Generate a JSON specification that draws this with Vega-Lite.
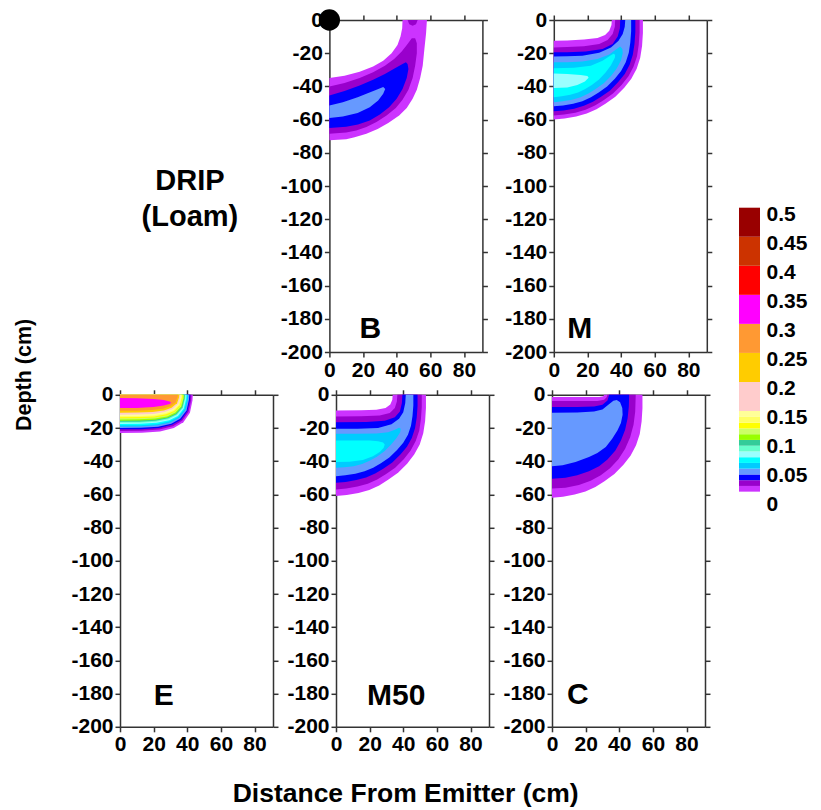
{
"$schema":"https://vega.github.io/schema/vega-lite/v6.json",
"padding":{"left":14,"top":9,"right":2,"bottom":2},
"background":"white",
"title":{"text":"Distance From Emitter (cm)","orient":"bottom","anchor":"middle","offset":26,"dx":-5,"fontSize":26.5,"font":"Liberation Sans","fontWeight":"bold","color":"#000"},
"config":{"view":{"stroke":null},"font":"Liberation Sans",
"axis":{"grid":false,"domainColor":"#333","domainWidth":1.5,"tickColor":"#333","tickWidth":1.5,"tickSize":5,"labelFont":"Liberation Sans","labelFontSize":21,"labelFontWeight":"bold","labelColor":"#000","labelPadding":2,"titleFont":"Liberation Sans","titleFontWeight":"bold","titleColor":"#000","titleFontSize":24}},
"datasets":{
"B":[
{"g":1,"c":"LP","i":0,"x":0,"y":-72.5},{"g":1,"c":"LP","i":1,"x":10,"y":-71.8},{"g":1,"c":"LP","i":2,"x":15,"y":-70.6},{"g":1,"c":"LP","i":3,"x":22,"y":-68.5},{"g":1,"c":"LP","i":4,"x":28.7,"y":-65.6},{"g":1,"c":"LP","i":5,"x":35,"y":-62},{"g":1,"c":"LP","i":6,"x":41.5,"y":-57.6},{"g":1,"c":"LP","i":7,"x":46,"y":-53},{"g":1,"c":"LP","i":8,"x":49.5,"y":-47.5},{"g":1,"c":"LP","i":9,"x":52,"y":-42},{"g":1,"c":"LP","i":10,"x":54,"y":-35},{"g":1,"c":"LP","i":11,"x":55.5,"y":-27.5},{"g":1,"c":"LP","i":12,"x":56.5,"y":-17.5},{"g":1,"c":"LP","i":13,"x":57.5,"y":-8},{"g":1,"c":"LP","i":14,"x":58,"y":0},{"g":1,"c":"LP","i":15,"x":43.5,"y":0},{"g":1,"c":"LP","i":16,"x":43.3,"y":-5},{"g":1,"c":"LP","i":17,"x":42.3,"y":-10},{"g":1,"c":"LP","i":18,"x":40.5,"y":-15},{"g":1,"c":"LP","i":19,"x":37,"y":-20},{"g":1,"c":"LP","i":20,"x":32,"y":-24.5},{"g":1,"c":"LP","i":21,"x":26,"y":-28},{"g":1,"c":"LP","i":22,"x":18,"y":-31.2},{"g":1,"c":"LP","i":23,"x":9,"y":-33.6},{"g":1,"c":"LP","i":24,"x":0,"y":-35},
{"g":2,"c":"DP","i":0,"x":0,"y":-68.5},{"g":2,"c":"DP","i":1,"x":10,"y":-67.8},{"g":2,"c":"DP","i":2,"x":16,"y":-66.5},{"g":2,"c":"DP","i":3,"x":22,"y":-64.5},{"g":2,"c":"DP","i":4,"x":28,"y":-61.5},{"g":2,"c":"DP","i":5,"x":34,"y":-57.5},{"g":2,"c":"DP","i":6,"x":39.5,"y":-53},{"g":2,"c":"DP","i":7,"x":43.5,"y":-48},{"g":2,"c":"DP","i":8,"x":47,"y":-42},{"g":2,"c":"DP","i":9,"x":49.5,"y":-35},{"g":2,"c":"DP","i":10,"x":51,"y":-27.5},{"g":2,"c":"DP","i":11,"x":52,"y":-20},{"g":2,"c":"DP","i":12,"x":52,"y":-14},{"g":2,"c":"DP","i":13,"x":51,"y":-11},{"g":2,"c":"DP","i":14,"x":49,"y":-11},{"g":2,"c":"DP","i":15,"x":46.5,"y":-14.5},{"g":2,"c":"DP","i":16,"x":43,"y":-19},{"g":2,"c":"DP","i":17,"x":38.5,"y":-23.5},{"g":2,"c":"DP","i":18,"x":33,"y":-27.5},{"g":2,"c":"DP","i":19,"x":26,"y":-31.5},{"g":2,"c":"DP","i":20,"x":18,"y":-35},{"g":2,"c":"DP","i":21,"x":9,"y":-38},{"g":2,"c":"DP","i":22,"x":0,"y":-40},
{"g":3,"c":"DP","i":0,"x":46.5,"y":0},{"g":3,"c":"DP","i":1,"x":47.5,"y":-2.5},{"g":3,"c":"DP","i":2,"x":49.5,"y":-3.5},{"g":3,"c":"DP","i":3,"x":51.5,"y":-2.5},{"g":3,"c":"DP","i":4,"x":52.5,"y":0},
{"g":4,"c":"BL","i":0,"x":0,"y":-65},{"g":4,"c":"BL","i":1,"x":10,"y":-64.3},{"g":4,"c":"BL","i":2,"x":17,"y":-63},{"g":4,"c":"BL","i":3,"x":24,"y":-60.5},{"g":4,"c":"BL","i":4,"x":30,"y":-57},{"g":4,"c":"BL","i":5,"x":35.5,"y":-52.5},{"g":4,"c":"BL","i":6,"x":40,"y":-47.5},{"g":4,"c":"BL","i":7,"x":43.5,"y":-41.5},{"g":4,"c":"BL","i":8,"x":46,"y":-35},{"g":4,"c":"BL","i":9,"x":47,"y":-29.5},{"g":4,"c":"BL","i":10,"x":46.5,"y":-26.5},{"g":4,"c":"BL","i":11,"x":45.5,"y":-25.5},{"g":4,"c":"BL","i":12,"x":43.5,"y":-26.5},{"g":4,"c":"BL","i":13,"x":39,"y":-29},{"g":4,"c":"BL","i":14,"x":33,"y":-32.5},{"g":4,"c":"BL","i":15,"x":26,"y":-36},{"g":4,"c":"BL","i":16,"x":18,"y":-39.5},{"g":4,"c":"BL","i":17,"x":9,"y":-42.8},{"g":4,"c":"BL","i":18,"x":0,"y":-45.5},
{"g":5,"c":"CF","i":0,"x":0,"y":-59},{"g":5,"c":"CF","i":1,"x":8,"y":-58.2},{"g":5,"c":"CF","i":2,"x":16.8,"y":-56},{"g":5,"c":"CF","i":3,"x":24,"y":-52.5},{"g":5,"c":"CF","i":4,"x":29,"y":-48.5},{"g":5,"c":"CF","i":5,"x":32,"y":-44.5},{"g":5,"c":"CF","i":6,"x":33.2,"y":-41.5},{"g":5,"c":"CF","i":7,"x":32,"y":-40.3},{"g":5,"c":"CF","i":8,"x":28,"y":-42},{"g":5,"c":"CF","i":9,"x":22,"y":-44.5},{"g":5,"c":"CF","i":10,"x":16.8,"y":-46.5},{"g":5,"c":"CF","i":11,"x":8,"y":-49.5},{"g":5,"c":"CF","i":12,"x":0,"y":-51.5}
],
"M":[
{"g":1,"c":"LP","i":0,"x":0,"y":-60},{"g":1,"c":"LP","i":1,"x":6.4,"y":-59.4},{"g":1,"c":"LP","i":2,"x":13.3,"y":-58.2},{"g":1,"c":"LP","i":3,"x":19.6,"y":-56.4},{"g":1,"c":"LP","i":4,"x":25.4,"y":-53.7},{"g":1,"c":"LP","i":5,"x":30.7,"y":-50.4},{"g":1,"c":"LP","i":6,"x":36.6,"y":-46.2},{"g":1,"c":"LP","i":7,"x":41.9,"y":-40.8},{"g":1,"c":"LP","i":8,"x":46.1,"y":-35.4},{"g":1,"c":"LP","i":9,"x":49.3,"y":-29.4},{"g":1,"c":"LP","i":10,"x":51.4,"y":-22.8},{"g":1,"c":"LP","i":11,"x":52.5,"y":-15.6},{"g":1,"c":"LP","i":12,"x":53,"y":-7.8},{"g":1,"c":"LP","i":13,"x":53,"y":0},{"g":1,"c":"LP","i":14,"x":34.5,"y":0},{"g":1,"c":"LP","i":15,"x":34.3,"y":-3},{"g":1,"c":"LP","i":16,"x":33,"y":-6.5},{"g":1,"c":"LP","i":17,"x":30.5,"y":-9},{"g":1,"c":"LP","i":18,"x":26,"y":-10.8},{"g":1,"c":"LP","i":19,"x":18,"y":-11.8},{"g":1,"c":"LP","i":20,"x":8,"y":-12.3},{"g":1,"c":"LP","i":21,"x":0,"y":-12.5},
{"g":2,"c":"DP","i":0,"x":0,"y":-57.5},{"g":2,"c":"DP","i":1,"x":6.1,"y":-56.9},{"g":2,"c":"DP","i":2,"x":12.8,"y":-55.8},{"g":2,"c":"DP","i":3,"x":18.9,"y":-54.1},{"g":2,"c":"DP","i":4,"x":24.5,"y":-51.5},{"g":2,"c":"DP","i":5,"x":29.6,"y":-48.3},{"g":2,"c":"DP","i":6,"x":35.2,"y":-44.3},{"g":2,"c":"DP","i":7,"x":40.3,"y":-39.1},{"g":2,"c":"DP","i":8,"x":44.4,"y":-33.9},{"g":2,"c":"DP","i":9,"x":47.4,"y":-28.2},{"g":2,"c":"DP","i":10,"x":49.5,"y":-21.9},{"g":2,"c":"DP","i":11,"x":50.5,"y":-15},{"g":2,"c":"DP","i":12,"x":51,"y":-7.5},{"g":2,"c":"DP","i":13,"x":51,"y":0},{"g":2,"c":"DP","i":14,"x":36.5,"y":0},{"g":2,"c":"DP","i":15,"x":36.3,"y":-4},{"g":2,"c":"DP","i":16,"x":35,"y":-8.5},{"g":2,"c":"DP","i":17,"x":32,"y":-12},{"g":2,"c":"DP","i":18,"x":27,"y":-14.5},{"g":2,"c":"DP","i":19,"x":18,"y":-15.8},{"g":2,"c":"DP","i":20,"x":8,"y":-16.3},{"g":2,"c":"DP","i":21,"x":0,"y":-16.5},
{"g":3,"c":"BL","i":0,"x":0,"y":-55},{"g":3,"c":"BL","i":1,"x":5.8,"y":-54.5},{"g":3,"c":"BL","i":2,"x":12.1,"y":-53.4},{"g":3,"c":"BL","i":3,"x":17.9,"y":-51.7},{"g":3,"c":"BL","i":4,"x":23.3,"y":-49.2},{"g":3,"c":"BL","i":5,"x":28.1,"y":-46.2},{"g":3,"c":"BL","i":6,"x":33.5,"y":-42.4},{"g":3,"c":"BL","i":7,"x":38.3,"y":-37.4},{"g":3,"c":"BL","i":8,"x":42.2,"y":-32.5},{"g":3,"c":"BL","i":9,"x":45.1,"y":-27},{"g":3,"c":"BL","i":10,"x":47,"y":-20.9},{"g":3,"c":"BL","i":11,"x":48,"y":-14.3},{"g":3,"c":"BL","i":12,"x":48.5,"y":-7.2},{"g":3,"c":"BL","i":13,"x":48.5,"y":0},{"g":3,"c":"BL","i":14,"x":39.5,"y":0},{"g":3,"c":"BL","i":15,"x":39.3,"y":-5},{"g":3,"c":"BL","i":16,"x":38,"y":-10},{"g":3,"c":"BL","i":17,"x":35,"y":-14.5},{"g":3,"c":"BL","i":18,"x":29,"y":-17.5},{"g":3,"c":"BL","i":19,"x":19,"y":-19},{"g":3,"c":"BL","i":20,"x":8,"y":-19.4},{"g":3,"c":"BL","i":21,"x":0,"y":-19.5},
{"g":4,"c":"CF","i":0,"x":0,"y":-52},{"g":4,"c":"CF","i":1,"x":5.5,"y":-51.5},{"g":4,"c":"CF","i":2,"x":11.5,"y":-50.4},{"g":4,"c":"CF","i":3,"x":17,"y":-48.9},{"g":4,"c":"CF","i":4,"x":22.1,"y":-46.5},{"g":4,"c":"CF","i":5,"x":26.7,"y":-43.7},{"g":4,"c":"CF","i":6,"x":31.7,"y":-40},{"g":4,"c":"CF","i":7,"x":36.3,"y":-35.4},{"g":4,"c":"CF","i":8,"x":40,"y":-30.7},{"g":4,"c":"CF","i":9,"x":42.8,"y":-25.5},{"g":4,"c":"CF","i":10,"x":44.6,"y":-19.8},{"g":4,"c":"CF","i":11,"x":45.5,"y":-13.5},{"g":4,"c":"CF","i":12,"x":46,"y":-6.8},{"g":4,"c":"CF","i":13,"x":46,"y":0},{"g":4,"c":"CF","i":14,"x":42.5,"y":0},{"g":4,"c":"CF","i":15,"x":42.2,"y":-4},{"g":4,"c":"CF","i":16,"x":41,"y":-8.5},{"g":4,"c":"CF","i":17,"x":38.5,"y":-12.5},{"g":4,"c":"CF","i":18,"x":34,"y":-16.5},{"g":4,"c":"CF","i":19,"x":27,"y":-19.8},{"g":4,"c":"CF","i":20,"x":17,"y":-21.5},{"g":4,"c":"CF","i":21,"x":8,"y":-21.9},{"g":4,"c":"CF","i":22,"x":0,"y":-22},
{"g":5,"c":"DS","i":0,"x":0,"y":-49.5},{"g":5,"c":"DS","i":1,"x":5.2,"y":-49},{"g":5,"c":"DS","i":2,"x":10.8,"y":-48},{"g":5,"c":"DS","i":3,"x":15.9,"y":-46.5},{"g":5,"c":"DS","i":4,"x":20.6,"y":-44.3},{"g":5,"c":"DS","i":5,"x":24.9,"y":-41.6},{"g":5,"c":"DS","i":6,"x":29.7,"y":-38.1},{"g":5,"c":"DS","i":7,"x":34,"y":-33.7},{"g":5,"c":"DS","i":8,"x":37.4,"y":-29.2},{"g":5,"c":"DS","i":9,"x":40,"y":-24.3},{"g":5,"c":"DS","i":10,"x":41,"y":-20},{"g":5,"c":"DS","i":11,"x":40.8,"y":-17.5},{"g":5,"c":"DS","i":12,"x":39.5,"y":-16},{"g":5,"c":"DS","i":13,"x":37,"y":-17.8},{"g":5,"c":"DS","i":14,"x":33,"y":-20.8},{"g":5,"c":"DS","i":15,"x":26,"y":-23.5},{"g":5,"c":"DS","i":16,"x":17,"y":-25},{"g":5,"c":"DS","i":17,"x":8,"y":-25.4},{"g":5,"c":"DS","i":18,"x":0,"y":-25.5},
{"g":6,"c":"CY","i":0,"x":0,"y":-46.5},{"g":6,"c":"CY","i":1,"x":4.7,"y":-46},{"g":6,"c":"CY","i":2,"x":9.8,"y":-45.1},{"g":6,"c":"CY","i":3,"x":14.4,"y":-43.7},{"g":6,"c":"CY","i":4,"x":18.7,"y":-41.6},{"g":6,"c":"CY","i":5,"x":22.6,"y":-39.1},{"g":6,"c":"CY","i":6,"x":26.9,"y":-35.8},{"g":6,"c":"CY","i":7,"x":30.8,"y":-31.6},{"g":6,"c":"CY","i":8,"x":33.9,"y":-27.4},{"g":6,"c":"CY","i":9,"x":36.3,"y":-22.8},{"g":6,"c":"CY","i":10,"x":36.5,"y":-21},{"g":6,"c":"CY","i":11,"x":35.5,"y":-20.3},{"g":6,"c":"CY","i":12,"x":33.5,"y":-21.5},{"g":6,"c":"CY","i":13,"x":29,"y":-24.5},{"g":6,"c":"CY","i":14,"x":22,"y":-27.5},{"g":6,"c":"CY","i":15,"x":12,"y":-28.8},{"g":6,"c":"CY","i":16,"x":0,"y":-29},
{"g":7,"c":"LC","i":0,"x":0,"y":-41},{"g":7,"c":"LC","i":1,"x":8,"y":-40.6},{"g":7,"c":"LC","i":2,"x":14,"y":-39.2},{"g":7,"c":"LC","i":3,"x":18.5,"y":-37},{"g":7,"c":"LC","i":4,"x":20.7,"y":-34.8},{"g":7,"c":"LC","i":5,"x":20,"y":-33.8},{"g":7,"c":"LC","i":6,"x":16,"y":-33.2},{"g":7,"c":"LC","i":7,"x":8,"y":-32.6},{"g":7,"c":"LC","i":8,"x":0,"y":-32.3}
],
"E":[
{"g":1,"c":"LP","i":0,"x":0,"y":0},{"g":1,"c":"LP","i":1,"x":0,"y":-23},{"g":1,"c":"LP","i":2,"x":13,"y":-22.9},{"g":1,"c":"LP","i":3,"x":23.8,"y":-22.1},{"g":1,"c":"LP","i":4,"x":32,"y":-20},{"g":1,"c":"LP","i":5,"x":37.7,"y":-16.6},{"g":1,"c":"LP","i":6,"x":41.6,"y":-10.8},{"g":1,"c":"LP","i":7,"x":43.1,"y":-3.5},{"g":1,"c":"LP","i":8,"x":43.3,"y":0},
{"g":2,"c":"DP","i":0,"x":0,"y":0},{"g":2,"c":"DP","i":1,"x":0,"y":-21.8},{"g":2,"c":"DP","i":2,"x":12.8,"y":-21.7},{"g":2,"c":"DP","i":3,"x":23.4,"y":-20.9},{"g":2,"c":"DP","i":4,"x":31.5,"y":-19},{"g":2,"c":"DP","i":5,"x":37,"y":-15.7},{"g":2,"c":"DP","i":6,"x":40.8,"y":-10.2},{"g":2,"c":"DP","i":7,"x":42.3,"y":-3.3},{"g":2,"c":"DP","i":8,"x":42.5,"y":0},
{"g":3,"c":"BL","i":0,"x":0,"y":0},{"g":3,"c":"BL","i":1,"x":0,"y":-20.8},{"g":3,"c":"BL","i":2,"x":12.5,"y":-20.7},{"g":3,"c":"BL","i":3,"x":23,"y":-20},{"g":3,"c":"BL","i":4,"x":30.9,"y":-18.1},{"g":3,"c":"BL","i":5,"x":36.4,"y":-15},{"g":3,"c":"BL","i":6,"x":40.1,"y":-9.8},{"g":3,"c":"BL","i":7,"x":41.6,"y":-3.1},{"g":3,"c":"BL","i":8,"x":41.8,"y":0},
{"g":4,"c":"CF","i":0,"x":0,"y":0},{"g":4,"c":"CF","i":1,"x":0,"y":-20},{"g":4,"c":"CF","i":2,"x":12.4,"y":-19.9},{"g":4,"c":"CF","i":3,"x":22.7,"y":-19.2},{"g":4,"c":"CF","i":4,"x":30.5,"y":-17.4},{"g":4,"c":"CF","i":5,"x":35.8,"y":-14.4},{"g":4,"c":"CF","i":6,"x":39.6,"y":-9.4},{"g":4,"c":"CF","i":7,"x":41,"y":-3},{"g":4,"c":"CF","i":8,"x":41.2,"y":0},
{"g":5,"c":"DS","i":0,"x":0,"y":0},{"g":5,"c":"DS","i":1,"x":0,"y":-19.2},{"g":5,"c":"DS","i":2,"x":12.2,"y":-19.1},{"g":5,"c":"DS","i":3,"x":22.3,"y":-18.4},{"g":5,"c":"DS","i":4,"x":30,"y":-16.7},{"g":5,"c":"DS","i":5,"x":35.3,"y":-13.8},{"g":5,"c":"DS","i":6,"x":39,"y":-9},{"g":5,"c":"DS","i":7,"x":40.4,"y":-2.9},{"g":5,"c":"DS","i":8,"x":40.6,"y":0},
{"g":6,"c":"CY","i":0,"x":0,"y":0},{"g":6,"c":"CY","i":1,"x":0,"y":-18.4},{"g":6,"c":"CY","i":2,"x":12,"y":-18.3},{"g":6,"c":"CY","i":3,"x":22,"y":-17.7},{"g":6,"c":"CY","i":4,"x":29.6,"y":-16},{"g":6,"c":"CY","i":5,"x":34.8,"y":-13.2},{"g":6,"c":"CY","i":6,"x":38.4,"y":-8.6},{"g":6,"c":"CY","i":7,"x":39.8,"y":-2.8},{"g":6,"c":"CY","i":8,"x":40,"y":0},
{"g":7,"c":"LC","i":0,"x":0,"y":0},{"g":7,"c":"LC","i":1,"x":0,"y":-17.6},{"g":7,"c":"LC","i":2,"x":11.9,"y":-17.5},{"g":7,"c":"LC","i":3,"x":21.7,"y":-16.9},{"g":7,"c":"LC","i":4,"x":29.2,"y":-15.3},{"g":7,"c":"LC","i":5,"x":34.4,"y":-12.7},{"g":7,"c":"LC","i":6,"x":37.9,"y":-8.3},{"g":7,"c":"LC","i":7,"x":39.3,"y":-2.6},{"g":7,"c":"LC","i":8,"x":39.5,"y":0},
{"g":8,"c":"AQ","i":0,"x":0,"y":0},{"g":8,"c":"AQ","i":1,"x":0,"y":-16.9},{"g":8,"c":"AQ","i":2,"x":11.7,"y":-16.8},{"g":8,"c":"AQ","i":3,"x":21.5,"y":-16.2},{"g":8,"c":"AQ","i":4,"x":28.9,"y":-14.7},{"g":8,"c":"AQ","i":5,"x":33.9,"y":-12.2},{"g":8,"c":"AQ","i":6,"x":37.4,"y":-7.9},{"g":8,"c":"AQ","i":7,"x":38.8,"y":-2.5},{"g":8,"c":"AQ","i":8,"x":39,"y":0},
{"g":9,"c":"TE","i":0,"x":0,"y":0},{"g":9,"c":"TE","i":1,"x":0,"y":-16.3},{"g":9,"c":"TE","i":2,"x":11.6,"y":-16.2},{"g":9,"c":"TE","i":3,"x":21.2,"y":-15.6},{"g":9,"c":"TE","i":4,"x":28.6,"y":-14.2},{"g":9,"c":"TE","i":5,"x":33.6,"y":-11.7},{"g":9,"c":"TE","i":6,"x":37.1,"y":-7.7},{"g":9,"c":"TE","i":7,"x":38.4,"y":-2.4},{"g":9,"c":"TE","i":8,"x":38.6,"y":0},
{"g":10,"c":"CH","i":0,"x":0,"y":0},{"g":10,"c":"CH","i":1,"x":0,"y":-15.6},{"g":10,"c":"CH","i":2,"x":11.5,"y":-15.5},{"g":10,"c":"CH","i":3,"x":21,"y":-15},{"g":10,"c":"CH","i":4,"x":28.3,"y":-13.6},{"g":10,"c":"CH","i":5,"x":33.2,"y":-11.2},{"g":10,"c":"CH","i":6,"x":36.7,"y":-7.3},{"g":10,"c":"CH","i":7,"x":38,"y":-2.3},{"g":10,"c":"CH","i":8,"x":38.2,"y":0},
{"g":11,"c":"YG","i":0,"x":0,"y":0},{"g":11,"c":"YG","i":1,"x":0,"y":-14.9},{"g":11,"c":"YG","i":2,"x":11.3,"y":-14.8},{"g":11,"c":"YG","i":3,"x":20.8,"y":-14.3},{"g":11,"c":"YG","i":4,"x":28,"y":-13},{"g":11,"c":"YG","i":5,"x":32.9,"y":-10.7},{"g":11,"c":"YG","i":6,"x":36.3,"y":-7},{"g":11,"c":"YG","i":7,"x":37.6,"y":-2.2},{"g":11,"c":"YG","i":8,"x":37.8,"y":0},
{"g":12,"c":"YE","i":0,"x":0,"y":0},{"g":12,"c":"YE","i":1,"x":0,"y":-14.2},{"g":12,"c":"YE","i":2,"x":11.2,"y":-14.1},{"g":12,"c":"YE","i":3,"x":20.6,"y":-13.6},{"g":12,"c":"YE","i":4,"x":27.7,"y":-12.4},{"g":12,"c":"YE","i":5,"x":32.5,"y":-10.2},{"g":12,"c":"YE","i":6,"x":35.9,"y":-6.7},{"g":12,"c":"YE","i":7,"x":37.2,"y":-2.1},{"g":12,"c":"YE","i":8,"x":37.4,"y":0},
{"g":13,"c":"LY","i":0,"x":0,"y":0},{"g":13,"c":"LY","i":1,"x":0,"y":-13.5},{"g":13,"c":"LY","i":2,"x":11.1,"y":-13.4},{"g":13,"c":"LY","i":3,"x":20.4,"y":-13},{"g":13,"c":"LY","i":4,"x":27.4,"y":-11.7},{"g":13,"c":"LY","i":5,"x":32.2,"y":-9.7},{"g":13,"c":"LY","i":6,"x":35.5,"y":-6.3},{"g":13,"c":"LY","i":7,"x":36.8,"y":-2},{"g":13,"c":"LY","i":8,"x":37,"y":0},
{"g":14,"c":"PY","i":0,"x":0,"y":0},{"g":14,"c":"PY","i":1,"x":0,"y":-12.8},{"g":14,"c":"PY","i":2,"x":11,"y":-12.7},{"g":14,"c":"PY","i":3,"x":20.1,"y":-12.3},{"g":14,"c":"PY","i":4,"x":27,"y":-11.1},{"g":14,"c":"PY","i":5,"x":31.8,"y":-9.2},{"g":14,"c":"PY","i":6,"x":35,"y":-6},{"g":14,"c":"PY","i":7,"x":36.3,"y":-1.9},{"g":14,"c":"PY","i":8,"x":36.5,"y":0},
{"g":15,"c":"PK","i":0,"x":0,"y":0},{"g":15,"c":"PK","i":1,"x":0,"y":-12},{"g":15,"c":"PK","i":2,"x":10.8,"y":-11.9},{"g":15,"c":"PK","i":3,"x":19.8,"y":-11.5},{"g":15,"c":"PK","i":4,"x":26.6,"y":-10.4},{"g":15,"c":"PK","i":5,"x":31.3,"y":-8.6},{"g":15,"c":"PK","i":6,"x":34.6,"y":-5.6},{"g":15,"c":"PK","i":7,"x":35.8,"y":-1.8},{"g":15,"c":"PK","i":8,"x":36,"y":0},
{"g":16,"c":"GO","i":0,"x":0,"y":0},{"g":16,"c":"GO","i":1,"x":0,"y":-10.8},{"g":16,"c":"GO","i":2,"x":10.6,"y":-10.7},{"g":16,"c":"GO","i":3,"x":19.4,"y":-10.4},{"g":16,"c":"GO","i":4,"x":26.1,"y":-9.4},{"g":16,"c":"GO","i":5,"x":30.7,"y":-7.8},{"g":16,"c":"GO","i":6,"x":33.9,"y":-5.1},{"g":16,"c":"GO","i":7,"x":35.1,"y":-1.6},{"g":16,"c":"GO","i":8,"x":35.3,"y":0},
{"g":17,"c":"OR","i":0,"x":0,"y":0},{"g":17,"c":"OR","i":1,"x":0,"y":-9.6},{"g":17,"c":"OR","i":2,"x":10.4,"y":-9.6},{"g":17,"c":"OR","i":3,"x":19,"y":-9.2},{"g":17,"c":"OR","i":4,"x":25.5,"y":-8.4},{"g":17,"c":"OR","i":5,"x":30,"y":-6.9},{"g":17,"c":"OR","i":6,"x":33.1,"y":-4.5},{"g":17,"c":"OR","i":7,"x":34.3,"y":-1.4},{"g":17,"c":"OR","i":8,"x":34.5,"y":0},
{"g":18,"c":"MA","i":0,"x":0,"y":-2},{"g":18,"c":"MA","i":1,"x":10,"y":-2.1},{"g":18,"c":"MA","i":2,"x":20,"y":-2.5},{"g":18,"c":"MA","i":3,"x":26,"y":-3.1},{"g":18,"c":"MA","i":4,"x":29.5,"y":-4},{"g":18,"c":"MA","i":5,"x":30.5,"y":-4.8},{"g":18,"c":"MA","i":6,"x":29.5,"y":-5.6},{"g":18,"c":"MA","i":7,"x":26,"y":-6.5},{"g":18,"c":"MA","i":8,"x":20,"y":-7.3},{"g":18,"c":"MA","i":9,"x":10,"y":-7.9},{"g":18,"c":"MA","i":10,"x":0,"y":-8}
],
"M50":[
{"g":1,"c":"LP","i":0,"x":0,"y":-61},{"g":1,"c":"LP","i":1,"x":6.4,"y":-60.4},{"g":1,"c":"LP","i":2,"x":13.4,"y":-59.2},{"g":1,"c":"LP","i":3,"x":19.8,"y":-57.3},{"g":1,"c":"LP","i":4,"x":25.7,"y":-54.6},{"g":1,"c":"LP","i":5,"x":31,"y":-51.2},{"g":1,"c":"LP","i":6,"x":36.9,"y":-47},{"g":1,"c":"LP","i":7,"x":42.3,"y":-41.5},{"g":1,"c":"LP","i":8,"x":46.5,"y":-36},{"g":1,"c":"LP","i":9,"x":49.8,"y":-29.9},{"g":1,"c":"LP","i":10,"x":51.9,"y":-23.2},{"g":1,"c":"LP","i":11,"x":53,"y":-15.9},{"g":1,"c":"LP","i":12,"x":53.5,"y":-7.9},{"g":1,"c":"LP","i":13,"x":53.5,"y":0},{"g":1,"c":"LP","i":14,"x":33.7,"y":0},{"g":1,"c":"LP","i":15,"x":33.5,"y":-3},{"g":1,"c":"LP","i":16,"x":32.3,"y":-5.8},{"g":1,"c":"LP","i":17,"x":29.5,"y":-8},{"g":1,"c":"LP","i":18,"x":24,"y":-9},{"g":1,"c":"LP","i":19,"x":15,"y":-9.3},{"g":1,"c":"LP","i":20,"x":0,"y":-9.4},
{"g":2,"c":"DP","i":0,"x":0,"y":-57},{"g":2,"c":"DP","i":1,"x":6.1,"y":-56.4},{"g":2,"c":"DP","i":2,"x":12.8,"y":-55.3},{"g":2,"c":"DP","i":3,"x":18.9,"y":-53.6},{"g":2,"c":"DP","i":4,"x":24.5,"y":-51},{"g":2,"c":"DP","i":5,"x":29.6,"y":-47.9},{"g":2,"c":"DP","i":6,"x":35.2,"y":-43.9},{"g":2,"c":"DP","i":7,"x":40.3,"y":-38.8},{"g":2,"c":"DP","i":8,"x":44.4,"y":-33.6},{"g":2,"c":"DP","i":9,"x":47.4,"y":-27.9},{"g":2,"c":"DP","i":10,"x":49.5,"y":-21.7},{"g":2,"c":"DP","i":11,"x":50.5,"y":-14.8},{"g":2,"c":"DP","i":12,"x":51,"y":-7.4},{"g":2,"c":"DP","i":13,"x":51,"y":0},{"g":2,"c":"DP","i":14,"x":36.5,"y":0},{"g":2,"c":"DP","i":15,"x":36.2,"y":-4},{"g":2,"c":"DP","i":16,"x":35,"y":-8},{"g":2,"c":"DP","i":17,"x":32,"y":-11},{"g":2,"c":"DP","i":18,"x":26,"y":-12.5},{"g":2,"c":"DP","i":19,"x":15,"y":-12.9},{"g":2,"c":"DP","i":20,"x":0,"y":-13},
{"g":3,"c":"BL","i":0,"x":0,"y":-53},{"g":3,"c":"BL","i":1,"x":5.8,"y":-52.5},{"g":3,"c":"BL","i":2,"x":12.1,"y":-51.4},{"g":3,"c":"BL","i":3,"x":17.9,"y":-49.8},{"g":3,"c":"BL","i":4,"x":23.3,"y":-47.4},{"g":3,"c":"BL","i":5,"x":28.1,"y":-44.5},{"g":3,"c":"BL","i":6,"x":33.5,"y":-40.8},{"g":3,"c":"BL","i":7,"x":38.3,"y":-36},{"g":3,"c":"BL","i":8,"x":42.2,"y":-31.3},{"g":3,"c":"BL","i":9,"x":45.1,"y":-26},{"g":3,"c":"BL","i":10,"x":47,"y":-20.1},{"g":3,"c":"BL","i":11,"x":48,"y":-13.8},{"g":3,"c":"BL","i":12,"x":48.5,"y":-6.9},{"g":3,"c":"BL","i":13,"x":48.5,"y":0},{"g":3,"c":"BL","i":14,"x":39.5,"y":0},{"g":3,"c":"BL","i":15,"x":39.2,"y":-5},{"g":3,"c":"BL","i":16,"x":38,"y":-10},{"g":3,"c":"BL","i":17,"x":35,"y":-13.5},{"g":3,"c":"BL","i":18,"x":29,"y":-15.7},{"g":3,"c":"BL","i":19,"x":18,"y":-16.4},{"g":3,"c":"BL","i":20,"x":0,"y":-16.5},
{"g":4,"c":"CF","i":0,"x":0,"y":-49},{"g":4,"c":"CF","i":1,"x":5.5,"y":-48.5},{"g":4,"c":"CF","i":2,"x":11.5,"y":-47.5},{"g":4,"c":"CF","i":3,"x":17,"y":-46.1},{"g":4,"c":"CF","i":4,"x":22.1,"y":-43.9},{"g":4,"c":"CF","i":5,"x":26.7,"y":-41.2},{"g":4,"c":"CF","i":6,"x":31.7,"y":-37.7},{"g":4,"c":"CF","i":7,"x":36.3,"y":-33.3},{"g":4,"c":"CF","i":8,"x":40,"y":-28.9},{"g":4,"c":"CF","i":9,"x":42.8,"y":-24},{"g":4,"c":"CF","i":10,"x":44.6,"y":-18.6},{"g":4,"c":"CF","i":11,"x":45.5,"y":-12.7},{"g":4,"c":"CF","i":12,"x":46,"y":-6.4},{"g":4,"c":"CF","i":13,"x":46,"y":0},{"g":4,"c":"CF","i":14,"x":41.5,"y":0},{"g":4,"c":"CF","i":15,"x":41.2,"y":-5},{"g":4,"c":"CF","i":16,"x":40,"y":-10.5},{"g":4,"c":"CF","i":17,"x":37.5,"y":-14.5},{"g":4,"c":"CF","i":18,"x":33,"y":-17.8},{"g":4,"c":"CF","i":19,"x":25,"y":-20},{"g":4,"c":"CF","i":20,"x":13,"y":-20.5},{"g":4,"c":"CF","i":21,"x":0,"y":-20.5},
{"g":5,"c":"DS","i":0,"x":0,"y":-44},{"g":5,"c":"DS","i":1,"x":5,"y":-43.7},{"g":5,"c":"DS","i":2,"x":10.5,"y":-43},{"g":5,"c":"DS","i":3,"x":15.5,"y":-41.7},{"g":5,"c":"DS","i":4,"x":20,"y":-39.8},{"g":5,"c":"DS","i":5,"x":24.3,"y":-37.3},{"g":5,"c":"DS","i":6,"x":28.8,"y":-34},{"g":5,"c":"DS","i":7,"x":32.8,"y":-30},{"g":5,"c":"DS","i":8,"x":36,"y":-26},{"g":5,"c":"DS","i":9,"x":38.2,"y":-22.5},{"g":5,"c":"DS","i":10,"x":38.5,"y":-20.5},{"g":5,"c":"DS","i":11,"x":37.5,"y":-19.8},{"g":5,"c":"DS","i":12,"x":35,"y":-21},{"g":5,"c":"DS","i":13,"x":31,"y":-22.6},{"g":5,"c":"DS","i":14,"x":24,"y":-23.3},{"g":5,"c":"DS","i":15,"x":12,"y":-23.5},{"g":5,"c":"DS","i":16,"x":0,"y":-23.5},
{"g":6,"c":"CY","i":0,"x":0,"y":-27.5},{"g":6,"c":"CY","i":1,"x":12,"y":-27.5},{"g":6,"c":"CY","i":2,"x":20,"y":-27.6},{"g":6,"c":"CY","i":3,"x":25,"y":-28},{"g":6,"c":"CY","i":4,"x":28,"y":-28.7},{"g":6,"c":"CY","i":5,"x":29,"y":-30},{"g":6,"c":"CY","i":6,"x":28.3,"y":-32},{"g":6,"c":"CY","i":7,"x":26,"y":-34.5},{"g":6,"c":"CY","i":8,"x":22,"y":-37},{"g":6,"c":"CY","i":9,"x":16,"y":-39.3},{"g":6,"c":"CY","i":10,"x":8,"y":-40.3},{"g":6,"c":"CY","i":11,"x":0,"y":-40.5}
],
"C":[
{"g":1,"c":"LP","i":0,"x":0,"y":-62},{"g":1,"c":"LP","i":1,"x":6.5,"y":-61.4},{"g":1,"c":"LP","i":2,"x":13.5,"y":-60.1},{"g":1,"c":"LP","i":3,"x":19.9,"y":-58.3},{"g":1,"c":"LP","i":4,"x":25.8,"y":-55.5},{"g":1,"c":"LP","i":5,"x":31.2,"y":-52.1},{"g":1,"c":"LP","i":6,"x":37.1,"y":-47.7},{"g":1,"c":"LP","i":7,"x":42.5,"y":-42.2},{"g":1,"c":"LP","i":8,"x":46.8,"y":-36.6},{"g":1,"c":"LP","i":9,"x":50,"y":-30.4},{"g":1,"c":"LP","i":10,"x":52.2,"y":-23.6},{"g":1,"c":"LP","i":11,"x":53.3,"y":-16.1},{"g":1,"c":"LP","i":12,"x":53.8,"y":-8.1},{"g":1,"c":"LP","i":13,"x":53.8,"y":0},{"g":1,"c":"LP","i":14,"x":31,"y":0},{"g":1,"c":"LP","i":15,"x":30.5,"y":-0.8},{"g":1,"c":"LP","i":16,"x":28,"y":-1.3},{"g":1,"c":"LP","i":17,"x":15,"y":-1.4},{"g":1,"c":"LP","i":18,"x":0,"y":-1.4},
{"g":2,"c":"DP","i":0,"x":0,"y":-56.5},{"g":2,"c":"DP","i":1,"x":8,"y":-56},{"g":2,"c":"DP","i":2,"x":16,"y":-54.3},{"g":2,"c":"DP","i":3,"x":23,"y":-51.8},{"g":2,"c":"DP","i":4,"x":29,"y":-48.5},{"g":2,"c":"DP","i":5,"x":34.5,"y":-44.3},{"g":2,"c":"DP","i":6,"x":39.5,"y":-38.8},{"g":2,"c":"DP","i":7,"x":43.5,"y":-32.5},{"g":2,"c":"DP","i":8,"x":46.5,"y":-25.5},{"g":2,"c":"DP","i":9,"x":48.5,"y":-18},{"g":2,"c":"DP","i":10,"x":49.5,"y":-10},{"g":2,"c":"DP","i":11,"x":49.8,"y":0},{"g":2,"c":"DP","i":12,"x":33,"y":0},{"g":2,"c":"DP","i":13,"x":32.5,"y":-1.5},{"g":2,"c":"DP","i":14,"x":31,"y":-3},{"g":2,"c":"DP","i":15,"x":27,"y":-3.7},{"g":2,"c":"DP","i":16,"x":15,"y":-3.8},{"g":2,"c":"DP","i":17,"x":0,"y":-3.8},
{"g":3,"c":"BL","i":0,"x":0,"y":-50.5},{"g":3,"c":"BL","i":1,"x":8,"y":-50},{"g":3,"c":"BL","i":2,"x":15,"y":-48.5},{"g":3,"c":"BL","i":3,"x":22,"y":-46},{"g":3,"c":"BL","i":4,"x":28,"y":-43},{"g":3,"c":"BL","i":5,"x":33,"y":-39},{"g":3,"c":"BL","i":6,"x":37.7,"y":-33.5},{"g":3,"c":"BL","i":7,"x":41,"y":-27.5},{"g":3,"c":"BL","i":8,"x":43.5,"y":-21},{"g":3,"c":"BL","i":9,"x":45,"y":-14},{"g":3,"c":"BL","i":10,"x":45.7,"y":-7},{"g":3,"c":"BL","i":11,"x":45.9,"y":0},{"g":3,"c":"BL","i":12,"x":34,"y":0},{"g":3,"c":"BL","i":13,"x":33,"y":-3.5},{"g":3,"c":"BL","i":14,"x":30,"y":-6},{"g":3,"c":"BL","i":15,"x":25,"y":-7},{"g":3,"c":"BL","i":16,"x":15,"y":-7.3},{"g":3,"c":"BL","i":17,"x":0,"y":-7.4},
{"g":4,"c":"CF","i":0,"x":0,"y":-10.8},{"g":4,"c":"CF","i":1,"x":15,"y":-10.6},{"g":4,"c":"CF","i":2,"x":25,"y":-10.1},{"g":4,"c":"CF","i":3,"x":30,"y":-8.8},{"g":4,"c":"CF","i":4,"x":33.5,"y":-6},{"g":4,"c":"CF","i":5,"x":36.5,"y":-3.6},{"g":4,"c":"CF","i":6,"x":38.5,"y":-3.2},{"g":4,"c":"CF","i":7,"x":40.5,"y":-4.5},{"g":4,"c":"CF","i":8,"x":41.8,"y":-8},{"g":4,"c":"CF","i":9,"x":42,"y":-12},{"g":4,"c":"CF","i":10,"x":41,"y":-17},{"g":4,"c":"CF","i":11,"x":38.9,"y":-21.5},{"g":4,"c":"CF","i":12,"x":35.8,"y":-26.5},{"g":4,"c":"CF","i":13,"x":32,"y":-31.5},{"g":4,"c":"CF","i":14,"x":27,"y":-35},{"g":4,"c":"CF","i":15,"x":22,"y":-37.5},{"g":4,"c":"CF","i":16,"x":14,"y":-40.5},{"g":4,"c":"CF","i":17,"x":6.3,"y":-42.5},{"g":4,"c":"CF","i":18,"x":0,"y":-43.1}
],
"LEG":[
{"c":"LP","lo":0.0112,"hi":0.021},{"c":"DP","lo":0.021,"hi":0.0309},{"c":"BL","lo":0.0309,"hi":0.0408},{"c":"CF","lo":0.0408,"hi":0.0507},{"c":"DS","lo":0.0507,"hi":0.0606},{"c":"CY","lo":0.0606,"hi":0.0705},{"c":"LC","lo":0.0705,"hi":0.0804},{"c":"AQ","lo":0.0804,"hi":0.0903},{"c":"TE","lo":0.0903,"hi":0.1002},{"c":"CH","lo":0.1002,"hi":0.1101},{"c":"YG","lo":0.1101,"hi":0.12},{"c":"YE","lo":0.12,"hi":0.1299},{"c":"LY","lo":0.1299,"hi":0.1398},{"c":"PY","lo":0.1398,"hi":0.15},{"c":"PK","lo":0.15,"hi":0.2},{"c":"GO","lo":0.2,"hi":0.25},{"c":"OR","lo":0.25,"hi":0.3},{"c":"MA","lo":0.3,"hi":0.35},{"c":"RE","lo":0.35,"hi":0.4},{"c":"RO","lo":0.4,"hi":0.45},{"c":"DR","lo":0.45,"hi":0.5}
]},
"hconcat":[
{"title":{"text":"Depth (cm)","orient":"left","anchor":"middle","offset":35,"dx":7,"fontSize":21.5,"font":"Liberation Sans","fontWeight":"bold","color":"#000"},
"vconcat":[
{"hconcat":[
{"width":143.6,"height":332,"data":{"values":[{}]},"mark":{"type":"text","text":["DRIP","(Loam)"],"font":"Liberation Sans","fontSize":29,"fontWeight":"bold","lineHeight":36,"align":"center","baseline":"middle","color":"#000"},"encoding":{"x":{"datum":0.487,"type":"quantitative","scale":{"domain":[0,1]},"axis":null},"y":{"datum":0.515,"type":"quantitative","scale":{"domain":[0,1]},"axis":null}}},
{"width":153,"height":332,"data":{"name":"B"},"resolve":{"axis":{"x":"independent","y":"independent"}},"layer":[
{"mark":{"type":"line","filled":true,"strokeWidth":0},"encoding":{"x":{"field":"x","type":"quantitative","scale":{"domain":[0,91],"nice":false,"zero":false},"axis":{"orient":"bottom","values":[0,20,40,60,80],"labelExpr":"''+datum.value","labelFlush":false,"labelOverlap":false,"title":null}},"y":{"field":"y","type":"quantitative","scale":{"domain":[-200,0],"nice":false,"zero":false},"axis":{"orient":"left","values":[0,-20,-40,-60,-80,-100,-120,-140,-160,-180,-200],"labelExpr":"''+datum.value","labelOverlap":false,"title":null}},"color":{"field":"c","type":"nominal","scale":{"domain":["LP","DP","BL","CF","DS","CY","LC","AQ","TE","CH","YG","YE","LY","PY","PK","GO","OR","MA","RE","RO","DR"],"range":["#CC33FF","#9900CC","#0000FF","#6699FF","#00CCFF","#00FFFF","#99FFFF","#66FFCC","#33CC99","#99FF00","#CCFF66","#FFFF00","#FFFF66","#FFFF99","#FFCCCC","#FFCC00","#FF9933","#FF00FF","#FF0000","#CC3300","#990000"]},"legend":null},"detail":{"field":"g","type":"nominal"},"order":{"field":"i"}}},
{"data":{"values":[{"t":"B"}]},"mark":{"type":"text","font":"Liberation Sans","fontSize":30,"fontWeight":"bold","color":"#000"},"encoding":{"x":{"datum":24.3,"type":"quantitative","scale":{"domain":[0,91],"nice":false,"zero":false},"axis":{"orient":"top","values":[0,20,40,60,80],"labels":false,"title":null}},"y":{"datum":-186,"type":"quantitative","scale":{"domain":[-200,0],"nice":false,"zero":false},"axis":{"orient":"right","values":[0,-20,-40,-60,-80,-100,-120,-140,-160,-180,-200],"labels":false,"title":null}},"text":{"field":"t"}}},
{"data":{"values":[{}]},"mark":{"type":"point","filled":true,"color":"#000","size":452,"opacity":1},"encoding":{"x":{"datum":0,"type":"quantitative","axis":null},"y":{"datum":0,"type":"quantitative","axis":null}}}
]},
{"width":153,"height":332,"data":{"name":"M"},"resolve":{"axis":{"x":"independent","y":"independent"}},"layer":[
{"mark":{"type":"line","filled":true,"strokeWidth":0},"encoding":{"x":{"field":"x","type":"quantitative","scale":{"domain":[0,91],"nice":false,"zero":false},"axis":{"orient":"bottom","values":[0,20,40,60,80],"labelExpr":"''+datum.value","labelFlush":false,"labelOverlap":false,"title":null}},"y":{"field":"y","type":"quantitative","scale":{"domain":[-200,0],"nice":false,"zero":false},"axis":{"orient":"left","values":[0,-20,-40,-60,-80,-100,-120,-140,-160,-180,-200],"labelExpr":"''+datum.value","labelOverlap":false,"title":null}},"color":{"field":"c","type":"nominal","scale":{"domain":["LP","DP","BL","CF","DS","CY","LC","AQ","TE","CH","YG","YE","LY","PY","PK","GO","OR","MA","RE","RO","DR"],"range":["#CC33FF","#9900CC","#0000FF","#6699FF","#00CCFF","#00FFFF","#99FFFF","#66FFCC","#33CC99","#99FF00","#CCFF66","#FFFF00","#FFFF66","#FFFF99","#FFCCCC","#FFCC00","#FF9933","#FF00FF","#FF0000","#CC3300","#990000"]},"legend":null},"detail":{"field":"g","type":"nominal"},"order":{"field":"i"}}},
{"data":{"values":[{"t":"M"}]},"mark":{"type":"text","font":"Liberation Sans","fontSize":30,"fontWeight":"bold","color":"#000"},"encoding":{"x":{"datum":15.4,"type":"quantitative","scale":{"domain":[0,91],"nice":false,"zero":false},"axis":{"orient":"top","values":[0,20,40,60,80],"labels":false,"title":null}},"y":{"datum":-186,"type":"quantitative","scale":{"domain":[-200,0],"nice":false,"zero":false},"axis":{"orient":"right","values":[0,-20,-40,-60,-80,-100,-120,-140,-160,-180,-200],"labels":false,"title":null}},"text":{"field":"t"}}}
]}
],"spacing":15.4},
{"hconcat":[
{"width":153,"height":332,"data":{"name":"E"},"resolve":{"axis":{"x":"independent","y":"independent"}},"layer":[
{"mark":{"type":"line","filled":true,"strokeWidth":0},"encoding":{"x":{"field":"x","type":"quantitative","scale":{"domain":[0,91],"nice":false,"zero":false},"axis":{"orient":"bottom","values":[0,20,40,60,80],"labelExpr":"''+datum.value","labelFlush":false,"labelOverlap":false,"title":null}},"y":{"field":"y","type":"quantitative","scale":{"domain":[-200,0],"nice":false,"zero":false},"axis":{"orient":"left","values":[0,-20,-40,-60,-80,-100,-120,-140,-160,-180,-200],"labelExpr":"''+datum.value","labelOverlap":false,"title":null}},"color":{"field":"c","type":"nominal","scale":{"domain":["LP","DP","BL","CF","DS","CY","LC","AQ","TE","CH","YG","YE","LY","PY","PK","GO","OR","MA","RE","RO","DR"],"range":["#CC33FF","#9900CC","#0000FF","#6699FF","#00CCFF","#00FFFF","#99FFFF","#66FFCC","#33CC99","#99FF00","#CCFF66","#FFFF00","#FFFF66","#FFFF99","#FFCCCC","#FFCC00","#FF9933","#FF00FF","#FF0000","#CC3300","#990000"]},"legend":null},"detail":{"field":"g","type":"nominal"},"order":{"field":"i"}}},
{"data":{"values":[{"t":"E"}]},"mark":{"type":"text","font":"Liberation Sans","fontSize":30,"fontWeight":"bold","color":"#000"},"encoding":{"x":{"datum":26,"type":"quantitative","scale":{"domain":[0,91],"nice":false,"zero":false},"axis":{"orient":"top","values":[0,20,40,60,80],"labels":false,"title":null}},"y":{"datum":-181.5,"type":"quantitative","scale":{"domain":[-200,0],"nice":false,"zero":false},"axis":{"orient":"right","values":[0,-20,-40,-60,-80,-100,-120,-140,-160,-180,-200],"labels":false,"title":null}},"text":{"field":"t"}}}
]},
{"width":153,"height":332,"data":{"name":"M50"},"resolve":{"axis":{"x":"independent","y":"independent"}},"layer":[
{"mark":{"type":"line","filled":true,"strokeWidth":0},"encoding":{"x":{"field":"x","type":"quantitative","scale":{"domain":[0,91],"nice":false,"zero":false},"axis":{"orient":"bottom","values":[0,20,40,60,80],"labelExpr":"''+datum.value","labelFlush":false,"labelOverlap":false,"title":null}},"y":{"field":"y","type":"quantitative","scale":{"domain":[-200,0],"nice":false,"zero":false},"axis":{"orient":"left","values":[0,-20,-40,-60,-80,-100,-120,-140,-160,-180,-200],"labelExpr":"''+datum.value","labelOverlap":false,"title":null}},"color":{"field":"c","type":"nominal","scale":{"domain":["LP","DP","BL","CF","DS","CY","LC","AQ","TE","CH","YG","YE","LY","PY","PK","GO","OR","MA","RE","RO","DR"],"range":["#CC33FF","#9900CC","#0000FF","#6699FF","#00CCFF","#00FFFF","#99FFFF","#66FFCC","#33CC99","#99FF00","#CCFF66","#FFFF00","#FFFF66","#FFFF99","#FFCCCC","#FFCC00","#FF9933","#FF00FF","#FF0000","#CC3300","#990000"]},"legend":null},"detail":{"field":"g","type":"nominal"},"order":{"field":"i"}}},
{"data":{"values":[{"t":"M50"}]},"mark":{"type":"text","font":"Liberation Sans","fontSize":30,"fontWeight":"bold","color":"#000"},"encoding":{"x":{"datum":35.8,"type":"quantitative","scale":{"domain":[0,91],"nice":false,"zero":false},"axis":{"orient":"top","values":[0,20,40,60,80],"labels":false,"title":null}},"y":{"datum":-181.5,"type":"quantitative","scale":{"domain":[-200,0],"nice":false,"zero":false},"axis":{"orient":"right","values":[0,-20,-40,-60,-80,-100,-120,-140,-160,-180,-200],"labels":false,"title":null}},"text":{"field":"t"}}}
]},
{"width":153,"height":332,"data":{"name":"C"},"resolve":{"axis":{"x":"independent","y":"independent"}},"layer":[
{"mark":{"type":"line","filled":true,"strokeWidth":0},"encoding":{"x":{"field":"x","type":"quantitative","scale":{"domain":[0,91],"nice":false,"zero":false},"axis":{"orient":"bottom","values":[0,20,40,60,80],"labelExpr":"''+datum.value","labelFlush":false,"labelOverlap":false,"title":null}},"y":{"field":"y","type":"quantitative","scale":{"domain":[-200,0],"nice":false,"zero":false},"axis":{"orient":"left","values":[0,-20,-40,-60,-80,-100,-120,-140,-160,-180,-200],"labelExpr":"''+datum.value","labelOverlap":false,"title":null}},"color":{"field":"c","type":"nominal","scale":{"domain":["LP","DP","BL","CF","DS","CY","LC","AQ","TE","CH","YG","YE","LY","PY","PK","GO","OR","MA","RE","RO","DR"],"range":["#CC33FF","#9900CC","#0000FF","#6699FF","#00CCFF","#00FFFF","#99FFFF","#66FFCC","#33CC99","#99FF00","#CCFF66","#FFFF00","#FFFF66","#FFFF99","#FFCCCC","#FFCC00","#FF9933","#FF00FF","#FF0000","#CC3300","#990000"]},"legend":null},"detail":{"field":"g","type":"nominal"},"order":{"field":"i"}}},
{"data":{"values":[{"t":"C"}]},"mark":{"type":"text","font":"Liberation Sans","fontSize":30,"fontWeight":"bold","color":"#000"},"encoding":{"x":{"datum":15.4,"type":"quantitative","scale":{"domain":[0,91],"nice":false,"zero":false},"axis":{"orient":"top","values":[0,20,40,60,80],"labels":false,"title":null}},"y":{"datum":-180.6,"type":"quantitative","scale":{"domain":[-200,0],"nice":false,"zero":false},"axis":{"orient":"right","values":[0,-20,-40,-60,-80,-100,-120,-140,-160,-180,-200],"labels":false,"title":null}},"text":{"field":"t"}}}
]}
],"spacing":7}
],"spacing":3.8},
{"width":21,"height":500,"data":{"name":"LEG"},"mark":{"type":"rect"},"encoding":{"y":{"field":"lo","type":"quantitative","scale":{"domain":[-0.0376,0.8231],"nice":false,"zero":false},"axis":{"orient":"right","values":[0,0.05,0.1,0.15,0.2,0.25,0.3,0.35,0.4,0.45,0.5],"labelExpr":"''+datum.value","domain":false,"ticks":false,"tickSize":0,"labelPadding":6,"labelOffset":6.5,"labelOverlap":false,"title":null}},"y2":{"field":"hi"},"color":{"field":"c","type":"nominal","scale":{"domain":["LP","DP","BL","CF","DS","CY","LC","AQ","TE","CH","YG","YE","LY","PY","PK","GO","OR","MA","RE","RO","DR"],"range":["#CC33FF","#9900CC","#0000FF","#6699FF","#00CCFF","#00FFFF","#99FFFF","#66FFCC","#33CC99","#99FF00","#CCFF66","#FFFF00","#FFFF66","#FFFF99","#FFCCCC","#FFCC00","#FF9933","#FF00FF","#FF0000","#CC3300","#990000"]},"legend":null}}}
],
"spacing":26
}
